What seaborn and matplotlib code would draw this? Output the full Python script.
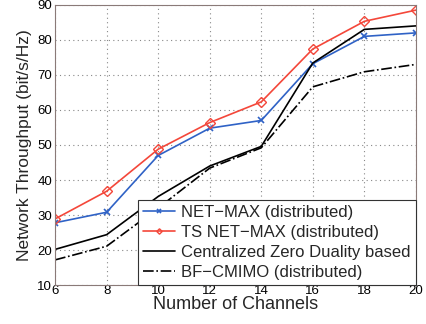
import matplotlib
matplotlib.use("Agg")
import matplotlib.pyplot as plt
import seaborn as sns
import pandas as pd

channels = [6, 8, 10, 12, 14, 16, 18, 20]
net_max = [27.8, 30.8, 47.0, 54.8, 57.0, 73.2, 81.0, 82.0]
ts_net_max = [28.9, 36.8, 48.8, 56.4, 62.3, 77.4, 85.3, 88.5]
centralized = [20.2, 24.4, 35.3, 44.0, 49.6, 73.4, 83.0, 84.0]
bf_cmimo = [17.2, 21.1, 32.0, 43.4, 49.2, 66.6, 70.9, 73.0]

labels = ["NET\u2212MAX (distributed)", "TS NET\u2212MAX (distributed)",
          "Centralized Zero Duality based", "BF\u2212CMIMO (distributed)"]
series = [net_max, ts_net_max, centralized, bf_cmimo]
colors = ["#2F62C6", "#F4473A", "#000000", "#000000"]
markers = ["x", "D", "", ""]
styles = ["-", "-", "-", "-."]

sns.set_theme(style="white")
plt.rcParams["font.family"] = ["Liberation Sans", "DejaVu Sans"]

fig = plt.figure(figsize=(4.27, 3.24), dpi=100)
ax = fig.add_axes([0.129, 0.120, 0.845, 0.865])

for lab, vals, c, m, ls in zip(labels, series, colors, markers, styles):
    df = pd.DataFrame({"x": channels, "y": vals})
    sns.lineplot(data=df, x="x", y="y", ax=ax, color=c,
                 linewidth=1.2, label=lab)
    ln = ax.get_lines()[-1]
    ln.set_linestyle(ls)
    if m == "D":
        ln.set_marker("D")
        ln.set_markersize(5.5)
        ln.set_markerfacecolor("none")
        ln.set_markeredgecolor(c)
        ln.set_markeredgewidth(1.0)
    elif m == "x":
        ln.set_marker("x")
        ln.set_markersize(5)
        ln.set_markeredgecolor(c)
        ln.set_markeredgewidth(1.2)

ax.set_xlim(6, 20)
ax.set_ylim(10, 90)
ax.set_xticks(channels)
ax.set_yticks(range(10, 91, 10))
ax.tick_params(axis="both", direction="in", labelsize=9.5, length=3,
               colors="#333333", labelcolor="black")
ax.tick_params(axis="x", pad=0)
ax.tick_params(axis="y", pad=2)
ax.grid(True, linestyle=(0, (1, 3)), color="#888888", linewidth=0.8)
for s in ax.spines.values():
    s.set_color("#8a7a78")
    s.set_linewidth(0.8)
ax.set_xlabel("Number of Channels", fontsize=13, labelpad=-1)
ax.set_ylabel("Network Throughput (bit/s/Hz)", fontsize=12.5, labelpad=4)

leg = ax.legend(loc="lower right", bbox_to_anchor=(1.0, 0.0), borderaxespad=0,
                fontsize=12, frameon=True, fancybox=False, framealpha=1,
                edgecolor="#333333", markerscale=0.5, handlelength=1.9,
                handletextpad=0.4, labelspacing=0.3, borderpad=0.3)
leg.get_frame().set_linewidth(0.8)

fig.savefig("out.png", dpi=100)
